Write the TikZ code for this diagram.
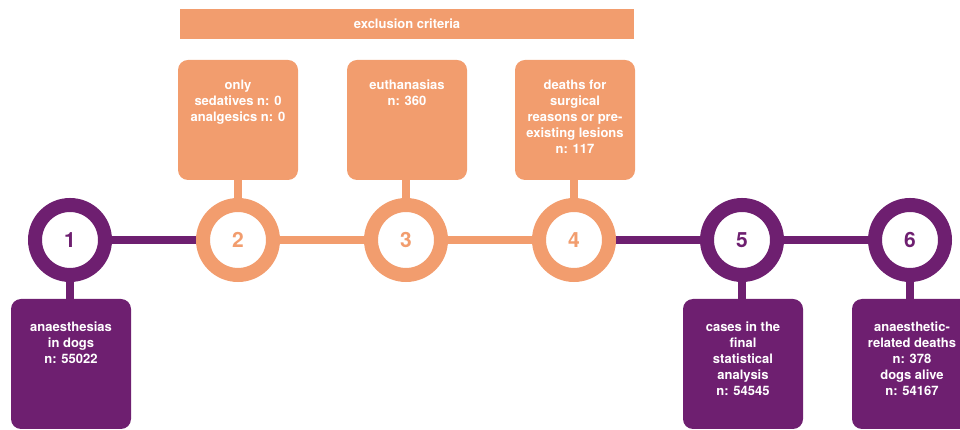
\documentclass[tikz,border=0pt]{standalone}
\usepackage{fontspec}
\setmainfont{TeX Gyre Heros}
\usetikzlibrary{backgrounds}
\definecolor{purp}{HTML}{6E1F70}
\definecolor{orng}{HTML}{F29D6E}
\begin{document}
\begin{tikzpicture}[x=1pt,y=1pt,
  ring/.style={circle, draw=#1, line width=14pt, fill=white, minimum size=70pt, inner sep=0pt, text=#1, font=\bfseries\fontsize{21}{21}\selectfont},
  boxnode/.style={rounded corners=10pt, fill=#1, draw=none, minimum width=120pt, inner sep=0pt},
  txt/.style={text=white, font=\bfseries\fontsize{13}{16}\selectfont, align=center, inner sep=0pt, anchor=north},
  link/.style={draw=#1, line width=8pt}]
\useasboundingbox (0,0) rectangle (960,430);
\clip (0,0) rectangle (960,430);
% exclusion bar
\node[fill=orng, minimum width=454pt, minimum height=30pt, inner sep=0pt] (bar) at (407,406) {};
\node[txt, anchor=center] (bart) at (407,406) {exclusion criteria};
% circles
\node[ring=purp] (c1) at (70,190) {1};
\node[ring=orng] (c2) at (238,190) {2};
\node[ring=orng] (c3) at (406,190) {3};
\node[ring=orng] (c4) at (574,190) {4};
\node[ring=purp] (c5) at (742,190) {5};
\node[ring=purp] (c6) at (910,190) {6};
% top boxes
\node[boxnode=orng, minimum height=120pt] (b2) at (238,310) {};
\node[boxnode=orng, minimum height=120pt] (b3) at (407,310) {};
\node[boxnode=orng, minimum height=120pt] (b4) at (575,310) {};
% bottom boxes
\node[boxnode=purp, minimum height=130pt] (b1) at (71,66) {};
\node[boxnode=purp, minimum height=130pt] (b5) at (743,66) {};
\node[boxnode=purp, minimum height=130pt] (b6) at (912,66) {};
% texts
\node[txt] (t2) at ([yshift=-20pt]b2.north) {only\\sedatives n: 0\\analgesics n: 0};
\node[txt] (t3) at ([yshift=-20pt]b3.north) {euthanasias\\n: 360};
\node[txt] (t4) at ([yshift=-20pt]b4.north) {deaths for\\surgical\\reasons or pre-\\existing lesions\\n: 117};
\node[txt] (t1) at ([yshift=-23pt]b1.north) {anaesthesias\\in dogs\\n: 55022};
\node[txt] (t5) at ([yshift=-23pt]b5.north) {cases in the\\final\\statistical\\analysis\\n: 54545};
\node[txt] (t6) at ([yshift=-23pt]b6.north) {anaesthetic-\\related deaths\\n: 378\\dogs alive\\n: 54167};
% connectors
\begin{scope}[on background layer]
\draw[link=purp] (c1.center) -- (c2.center);
\draw[link=orng] (c2.center) -- (c3.center);
\draw[link=orng] (c3.center) -- (c4.center);
\draw[link=purp] (c4.center) -- (c5.center);
\draw[link=purp] (c5.center) -- (c6.center);
\draw[link=purp] (c1.center) -- (c1.center |- b1.center);
\draw[link=purp] (c5.center) -- (c5.center |- b5.center);
\draw[link=purp] (c6.center) -- (c6.center |- b6.center);
\draw[link=orng] (c2.center) -- (c2.center |- b2.center);
\draw[link=orng] (c3.center) -- (c3.center |- b3.center);
\draw[link=orng] (c4.center) -- (c4.center |- b4.center);
\end{scope}
\end{tikzpicture}
\end{document}
